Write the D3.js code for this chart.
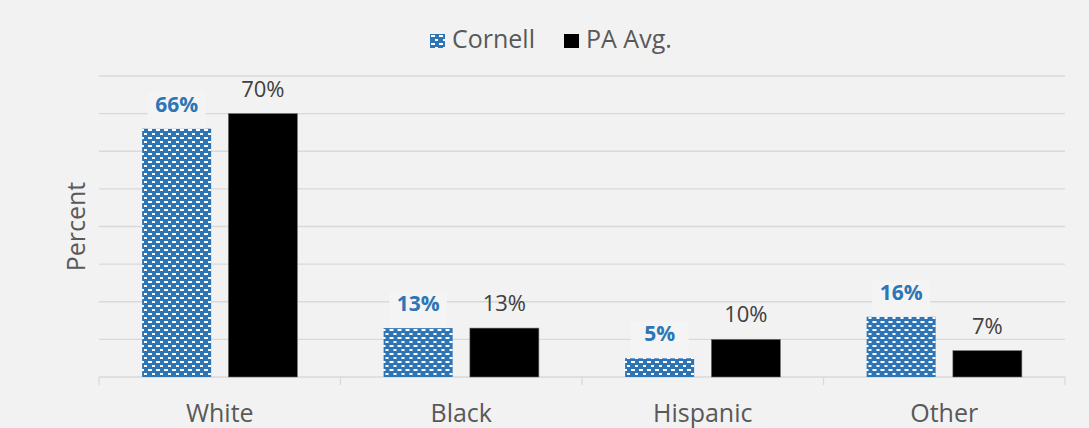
<!DOCTYPE html>
<html>
<head>
<meta charset="utf-8">
<script src="https://cdn.jsdelivr.net/npm/d3@7"></script>
<style>
  body { margin: 0; background: #f2f2f2; }
  svg { display: block; font-family: 'Open Sans', sans-serif; }
</style>
</head>
<body>
<div id="chart"></div>
<script>
const categories = ['White', 'Black', 'Hispanic', 'Other'];
const seriesNames = ['Cornell', 'PA Avg.'];
const cornell = [66, 13, 5, 16];
const paAvg = [70, 13, 10, 7];
const yTicks = [0, 10, 20, 30, 40, 50, 60, 70, 80];

const width = 1089;
const height = 428;
const margin = { top: 76, right: 24, bottom: 51, left: 99 };

const rows = categories.map((c, i) => ({ category: c, values: [cornell[i], paAvg[i]] }));

const svg = d3.select('#chart').append('svg')
  .attr('width', width)
  .attr('height', height);

svg.append('rect')
  .attr('width', width)
  .attr('height', height)
  .attr('fill', '#f2f2f2');

// brick-like dash pattern used for the Cornell bars
const defs = svg.append('defs');
const pat = defs.append('pattern')
  .attr('id', 'brick')
  .attr('patternUnits', 'userSpaceOnUse')
  .attr('width', 8)
  .attr('height', 8)
  .attr('shape-rendering', 'crispEdges');
pat.append('rect').attr('width', 8).attr('height', 8).attr('fill', '#2e75b6');
pat.append('rect').attr('x', 1).attr('y', 1).attr('width', 4).attr('height', 2).attr('fill', '#fff');
pat.append('rect').attr('x', 5).attr('y', 5).attr('width', 4).attr('height', 2).attr('fill', '#fff');

const x0 = d3.scaleBand()
  .domain(categories)
  .range([margin.left, width - margin.right]);

const x1 = d3.scaleBand()
  .domain(seriesNames)
  .range([0, x0.bandwidth()])
  .paddingInner(0.2)
  .paddingOuter(0.5);

const y = d3.scaleLinear()
  .domain([0, 80])
  .range([height - margin.bottom, margin.top]);

const fills = ['url(#brick)', '#000'];

// gridlines
svg.append('g')
  .selectAll('line')
  .data(yTicks.slice(1))
  .join('line')
  .attr('x1', margin.left)
  .attr('x2', width - margin.right)
  .attr('y1', d => y(d))
  .attr('y2', d => y(d))
  .attr('stroke', '#d9d9d9')
  .attr('stroke-width', 1.3);

// x axis line + category separators
const xAxis = svg.append('g');
xAxis.append('line')
  .attr('x1', margin.left)
  .attr('x2', width - margin.right)
  .attr('y1', y(0))
  .attr('y2', y(0))
  .attr('stroke', '#d9d9d9')
  .attr('stroke-width', 1.3);

const bounds = categories.map(c => x0(c)).concat([x0.range()[1]]);
xAxis.selectAll('.tick')
  .data(bounds)
  .join('line')
  .attr('x1', d => d)
  .attr('x2', d => d)
  .attr('y1', y(0))
  .attr('y2', y(0) + 8)
  .attr('stroke', '#d9d9d9')
  .attr('stroke-width', 1.3);

xAxis.selectAll('text')
  .data(categories)
  .join('text')
  .attr('x', d => x0(d) + x0.bandwidth() / 2)
  .attr('y', 422)
  .attr('text-anchor', 'middle')
  .attr('font-size', 25)
  .attr('fill', '#595959')
  .text(d => d);

// bars
const groups = svg.append('g')
  .selectAll('g')
  .data(rows)
  .join('g')
  .attr('transform', d => `translate(${x0(d.category)},0)`);

groups.selectAll('rect')
  .data(d => d.values.map((v, i) => ({ key: seriesNames[i], value: v, i })))
  .join('rect')
  .attr('x', d => x1(d.key))
  .attr('y', d => y(d.value))
  .attr('width', x1.bandwidth())
  .attr('height', d => y(0) - y(d.value))
  .attr('fill', d => fills[d.i])
  .attr('stroke', d => d.i === 1 ? '#6f6f6f' : 'none')
  .attr('stroke-width', 0.6);

// data labels
const labels = groups.selectAll('g.lbl')
  .data(d => d.values.map((v, i) => ({ key: seriesNames[i], value: v, i })))
  .join('g')
  .attr('class', 'lbl');

labels.filter(d => d.i === 0)
  .append('rect')
  .attr('x', d => x1(d.key) + x1.bandwidth() / 2 - 29)
  .attr('y', d => y(d.value) - 36)
  .attr('width', 58)
  .attr('height', 36)
  .attr('fill', '#f4f4f4');

labels.append('text')
  .attr('x', d => x1(d.key) + x1.bandwidth() / 2)
  .attr('y', d => y(d.value) - 17)
  .attr('text-anchor', 'middle')
  .attr('font-size', d => d.i === 0 ? 21 : 22)
  .attr('font-weight', d => d.i === 0 ? 'bold' : 'normal')
  .attr('fill', d => d.i === 0 ? '#2e75b6' : '#404040')
  .text(d => d.value + '%');

// y axis title
svg.append('text')
  .attr('transform', `translate(85,${(margin.top + y(0)) / 2}) rotate(-90)`)
  .attr('text-anchor', 'middle')
  .attr('font-size', 25)
  .attr('fill', '#595959')
  .text('Percent');

// legend
const legendX = [430, 564];
const legend = svg.append('g')
  .selectAll('g')
  .data(seriesNames)
  .join('g')
  .attr('transform', (d, i) => `translate(${legendX[i]},34)`);

legend.append('rect')
  .attr('width', 15)
  .attr('height', 14)
  .attr('fill', (d, i) => fills[i]);

legend.append('text')
  .attr('x', 22)
  .attr('y', 14)
  .attr('font-size', 25)
  .attr('fill', '#595959')
  .text(d => d);
</script>
</body>
</html>
